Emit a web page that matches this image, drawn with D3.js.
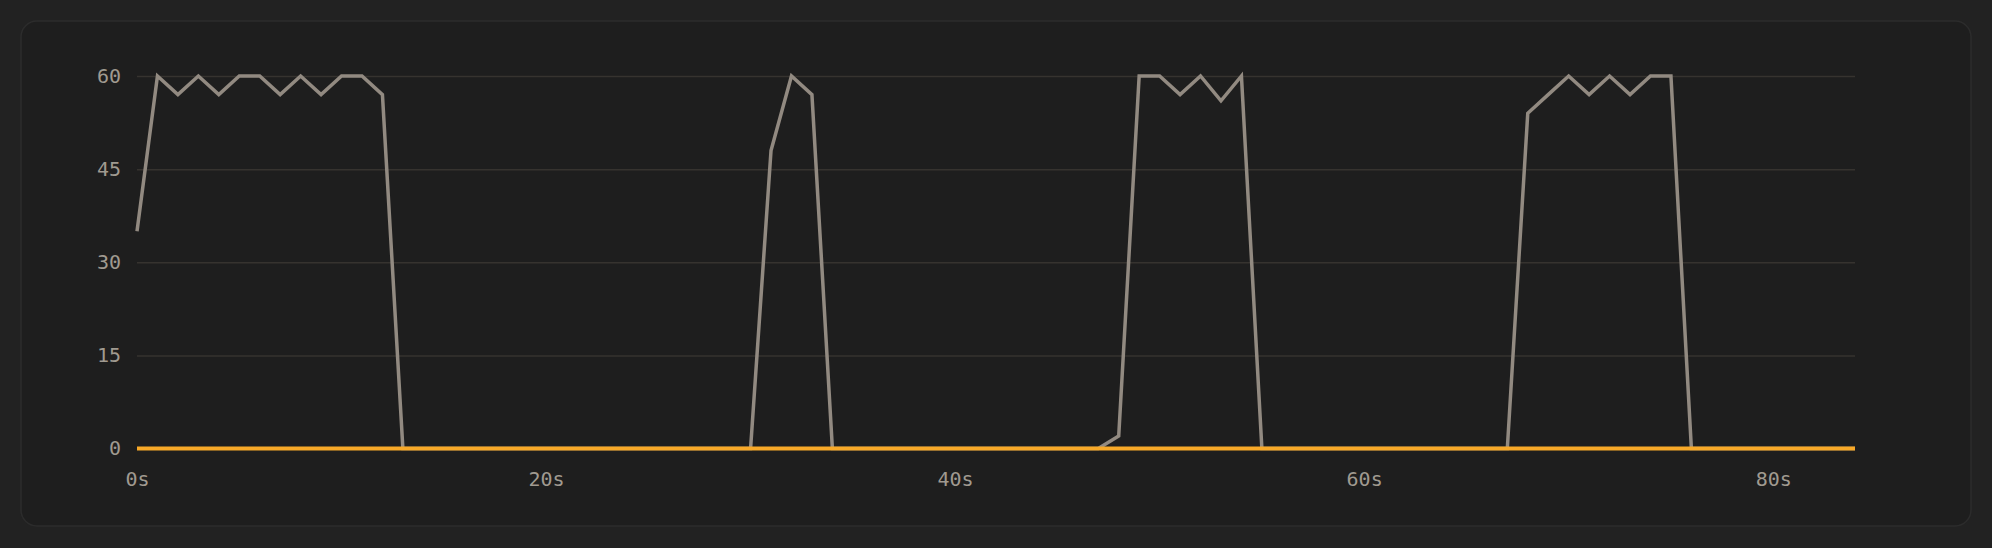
<!DOCTYPE html>
<html>
<head>
<meta charset="utf-8">
<script src="https://cdn.jsdelivr.net/npm/d3@7"></script>
<style>
  html, body { margin: 0; padding: 0; background: #222222; }
  svg { display: block; }
  .tick text { font-family: "DejaVu Sans Mono", monospace; font-size: 20px; fill: #a09a90; }
</style>
</head>
<body>
<script>
// one sample per second
const seconds = d3.range(0, 85);
const busy = [
  35, 60, 57, 60, 57, 60, 60, 57, 60, 57, 60, 60, 57, 0, 0, 0, 0, 0, 0, 0,
  0, 0, 0, 0, 0, 0, 0, 0, 0, 0, 0, 48, 60, 57, 0, 0, 0, 0, 0, 0,
  0, 0, 0, 0, 0, 0, 0, 0, 2, 60, 60, 57, 60, 56, 60, 0, 0, 0, 0, 0,
  0, 0, 0, 0, 0, 0, 0, 0, 54, 57, 60, 57, 60, 57, 60, 60, 0, 0, 0, 0,
  0, 0, 0, 0, 0
];
const idle = seconds.map(() => 0);
const yTicks = [0, 15, 30, 45, 60];
const xTicks = [0, 20, 40, 60, 80];

const W = 1992, H = 548;
const svg = d3.select('body').append('svg')
  .attr('width', W)
  .attr('height', H);

// card behind the chart
svg.append('rect')
  .attr('x', 21).attr('y', 21)
  .attr('width', 1950).attr('height', 505)
  .attr('rx', 16)
  .attr('fill', '#1e1e1e')
  .attr('stroke', '#2c2c2c')
  .attr('stroke-width', 1.5);

const x = d3.scaleLinear().domain([0, 84]).range([137, 1855]);
const y = d3.scaleLinear().domain([0, 60]).range([448.5, 76]);

// y grid + labels
const yAxis = svg.append('g')
  .attr('transform', `translate(${x.range()[0]},0)`)
  .call(d3.axisLeft(y).tickValues(yTicks).tickSize(-(x.range()[1] - x.range()[0])).tickPadding(16));
yAxis.select('.domain').remove();
yAxis.selectAll('.tick line').attr('stroke', '#36332f').attr('stroke-width', 1.5);

// x labels
const xAxis = svg.append('g')
  .attr('transform', `translate(0,${y(0)})`)
  .call(d3.axisBottom(x).tickValues(xTicks).tickFormat(d => d + 's').tickSize(0).tickPadding(23));
xAxis.select('.domain').remove();

const line = d3.line()
  .x((d, i) => x(seconds[i]))
  .y(d => y(d));

svg.append('path')
  .datum(busy)
  .attr('fill', 'none')
  .attr('stroke', '#928a81')
  .attr('stroke-width', 3.5)
  .attr('stroke-linejoin', 'miter')
  .attr('d', line);

svg.append('path')
  .datum(idle)
  .attr('fill', 'none')
  .attr('stroke', '#f8a928')
  .attr('stroke-width', 4)
  .attr('d', line);
</script>
</body>
</html>
